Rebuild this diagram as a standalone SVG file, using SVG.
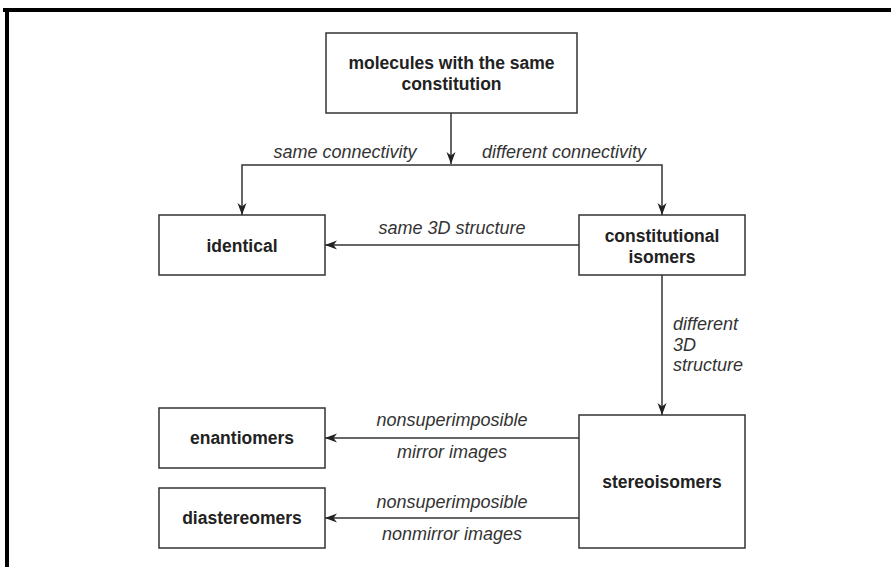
<svg xmlns="http://www.w3.org/2000/svg" width="891" height="567" viewBox="0 0 891 567">
<defs>
<style>
.box{fill:#fff;stroke:#333;stroke-width:1.5}
.b{font-family:"Liberation Sans",Arial,sans-serif;font-weight:bold;font-size:17.5px;fill:#222;text-anchor:middle}
.i{font-family:"Liberation Sans",Arial,sans-serif;font-style:italic;font-size:18px;fill:#333}
.c{fill:none;stroke:#333;stroke-width:1.5}
</style>
<marker id="ah" markerUnits="userSpaceOnUse" markerWidth="13" markerHeight="10" refX="12" refY="5" orient="auto">
<path d="M0,0.5 L12,5 L0,9.5 L3.5,5 z" fill="#222"/>
</marker>
</defs>
<rect x="0" y="0" width="891" height="567" fill="#fff"/>
<g id="frame">
<rect x="3" y="8" width="888" height="4" fill="#000"/>
<rect x="5" y="8" width="4" height="559" fill="#000"/>
</g>
<g id="connectors">
<path class="c" d="M451,113 V164" marker-end="url(#ah)"/>
<path class="c" d="M451,165 H242 V215" marker-end="url(#ah)"/>
<path class="c" d="M451,165 H662 V215" marker-end="url(#ah)"/>
<path class="c" d="M579,245 H325" marker-end="url(#ah)"/>
<path class="c" d="M662,275 V415" marker-end="url(#ah)"/>
<path class="c" d="M579,438 H325" marker-end="url(#ah)"/>
<path class="c" d="M579,518 H325" marker-end="url(#ah)"/>
<text class="i" x="345" y="158" text-anchor="middle">same connectivity</text>
<text class="i" x="564" y="158" text-anchor="middle">different connectivity</text>
<text class="i" x="452" y="234" text-anchor="middle">same 3D structure</text>
<text class="i" x="673" y="330">different</text>
<text class="i" x="673" y="351">3D</text>
<text class="i" x="673" y="371">structure</text>
<text class="i" x="452" y="426" text-anchor="middle">nonsuperimposible</text>
<text class="i" x="452" y="458" text-anchor="middle">mirror images</text>
<text class="i" x="452" y="508" text-anchor="middle">nonsuperimposible</text>
<text class="i" x="452" y="540" text-anchor="middle">nonmirror images</text>
</g>
<g id="top">
<rect class="box" x="326" y="33" width="251" height="80"/>
<text class="b" x="451.5" y="69">molecules with the same</text>
<text class="b" x="451.5" y="90">constitution</text>
</g>
<g id="identical">
<rect class="box" x="159" y="215" width="166" height="60"/>
<text class="b" x="242" y="252">identical</text>
</g>
<g id="constitutional">
<rect class="box" x="579" y="215" width="166" height="60"/>
<text class="b" x="662" y="242">constitutional</text>
<text class="b" x="662" y="263">isomers</text>
</g>
<g id="enantiomers">
<rect class="box" x="159" y="408" width="166" height="60"/>
<text class="b" x="242" y="444">enantiomers</text>
</g>
<g id="diastereomers">
<rect class="box" x="159" y="488" width="166" height="60"/>
<text class="b" x="242" y="524">diastereomers</text>
</g>
<g id="stereoisomers">
<rect class="box" x="579" y="415" width="166" height="133"/>
<text class="b" x="662" y="488">stereoisomers</text>
</g>
</svg>
